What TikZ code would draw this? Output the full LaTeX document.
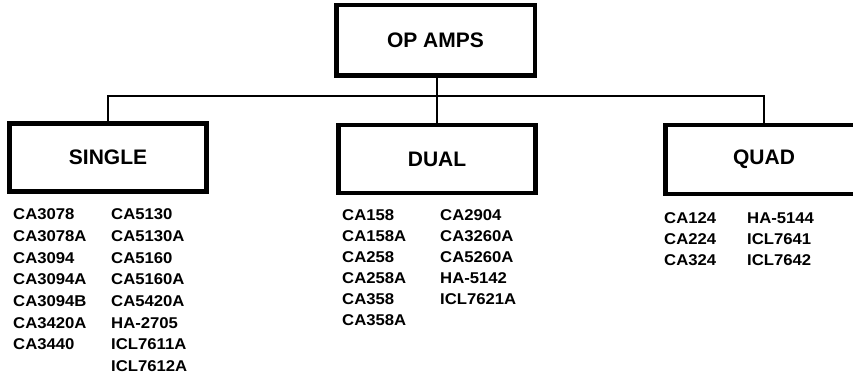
\documentclass[tikz,border=0pt]{standalone}
\usepackage{fontspec}
\setmainfont{Liberation Sans}
\newfontfamily\listfont[FakeStretch=1.07]{Liberation Sans}
\begin{document}
\begin{tikzpicture}[x=1pt,y=-1pt,
  titlebox/.style={draw,line width=4.5pt,minimum width=197pt,minimum height=68pt,inner sep=0pt,
    font=\fontsize{21}{21}\selectfont\bfseries},
  item/.style={anchor=base west,inner sep=0pt,font=\listfont\bfseries\fontsize{15.6}{15.6}\selectfont},
  link/.style={line width=2.4pt}]
\useasboundingbox (0,0) rectangle (853,379);
\clip (0,0) rectangle (853,379);
\node[titlebox,minimum width=198.5pt,minimum height=70.5pt] (top) at (435.5,40.5) {OP AMPS};
\node[titlebox] (single) at (108,157.5) {SINGLE};
\node[titlebox] (dual) at (437,159) {DUAL};
\node[titlebox,minimum height=69pt] (quad) at (764,159.5) {QUAD};
\coordinate (hl) at (0,96);
\draw[link] (top.south -| dual.north) -- (dual.north);
\draw[link] (single.north) -- (single.north |- hl) -- (quad.north |- hl) -- (quad.north);
\foreach \t [count=\i] in {CA3078,CA3078A,CA3094,CA3094A,CA3094B,CA3420A,CA3440}
  \node[item] (sa\i) at (13,220+21.6*\i-21.6) {\t};
\foreach \t [count=\i] in {CA5130,CA5130A,CA5160,CA5160A,CA5420A,HA-2705,ICL7611A,ICL7612A}
  \node[item] (sb\i) at (111,220+21.6*\i-21.6) {\t};
\foreach \t [count=\i] in {CA158,CA158A,CA258,CA258A,CA358,CA358A}
  \node[item] (da\i) at (342,221+20.8*\i-20.8) {\t};
\foreach \t [count=\i] in {CA2904,CA3260A,CA5260A,HA-5142,ICL7621A}
  \node[item] (db\i) at (440,221+20.8*\i-20.8) {\t};
\foreach \t [count=\i] in {CA124,CA224,CA324}
  \node[item] (qa\i) at (664,224+20.7*\i-20.7) {\t};
\foreach \t [count=\i] in {HA-5144,ICL7641,ICL7642}
  \node[item] (qb\i) at (747,224+20.7*\i-20.7) {\t};
\end{tikzpicture}
\end{document}
